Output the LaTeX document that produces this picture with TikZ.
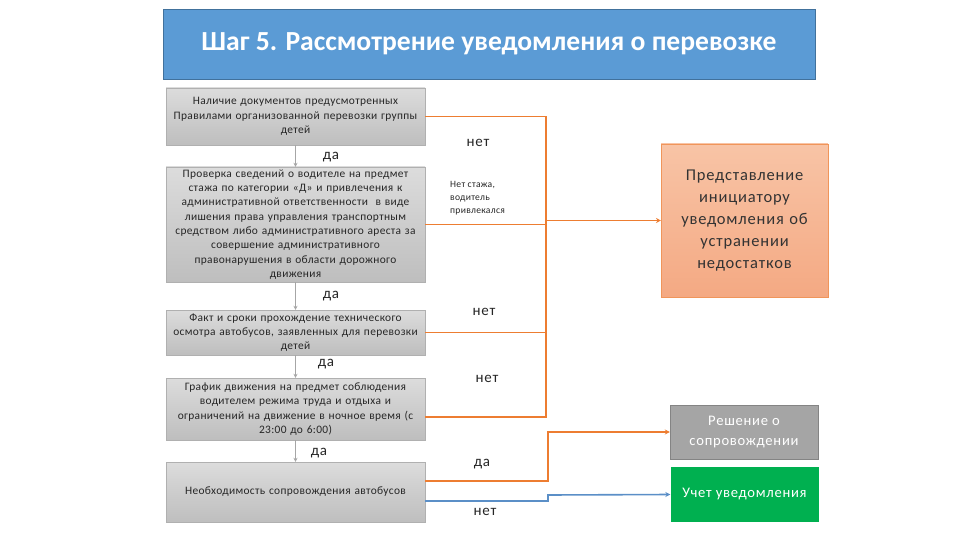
\documentclass[tikz,border=0pt]{standalone}
\usepackage{fontspec}
\setmainfont{Carlito}
\newfontfamily\spacedfont[LetterSpace=5]{Carlito}
\newfontfamily\boxfont[LetterSpace=3]{Carlito}
\usetikzlibrary{arrows.meta,positioning,calc}

\definecolor{titleblue}{HTML}{5B9BD5}
\definecolor{titleedge}{HTML}{41719C}
\definecolor{boxtop}{HTML}{DCDCDC}
\definecolor{boxbot}{HTML}{BEBEBE}
\definecolor{boxedge}{HTML}{B0B0B0}
\definecolor{noline}{HTML}{ED7D31}
\definecolor{yesline}{HTML}{A6A6A6}
\definecolor{blueline}{HTML}{5B8FC7}
\definecolor{fixtop}{HTML}{F8C4A6}
\definecolor{fixbot}{HTML}{F4A983}
\definecolor{fixedge}{HTML}{F0955A}
\definecolor{decgray}{HTML}{A5A5A5}
\definecolor{reggreen}{HTML}{00B050}

\begin{document}
\begin{tikzpicture}[
    x=1pt, y=-1pt,
    checkbox/.style={draw=boxedge, top color=boxtop, bottom color=boxbot,
        minimum width=259pt, text width=257pt, align=center, inner sep=1pt,
        font=\boxfont\fontsize{11.4}{14.3}\selectfont, text=black!85},
    resultbox/.style={minimum width=148pt, align=center, text=white,
        font=\spacedfont\fontsize{14.6}{20}\selectfont},
    yesarrow/.style={draw=yesline, line width=1pt, -{Stealth[length=4pt,width=4pt]}},
    noline/.style={draw=noline, line width=1.6pt},
    answer/.style={font=\spacedfont\fontsize{15}{16}\selectfont, text=black!85}
]
\useasboundingbox (0,0) rectangle (960,540);

% title
\node[draw=titleedge, fill=titleblue, minimum width=652pt, minimum height=70pt,
    text=white, font=\bfseries\fontsize{27.6}{30}\selectfont] (title) at (489,44)
    {Шаг 5. Рассмотрение уведомления о перевозке};

% checks
\node[checkbox, minimum height=57pt] (docs) at (295.5,116.5)
    {Наличие документов предусмотренных\\Правилами организованной перевозки группы\\детей};
\node[checkbox, minimum height=115pt] (driver) at (295.5,224.5)
    {Проверка сведений о водителе на предмет\\стажа по категории «Д» и привлечения к\\административной ответственности \ в виде\\лишения права управления транспортным\\средством либо административного ареста за\\совершение административного\\правонарушения в области дорожного\\движения};
\node[checkbox, minimum height=45pt] (inspect) at (295.5,332.5)
    {Факт и сроки прохождение технического\\осмотра автобусов, заявленных для перевозки\\детей};
\node[checkbox, minimum height=62pt] (sched) at (295.5,409)
    {График движения на предмет соблюдения\\водителем режима труда и отдыха и\\ограничений на движение в ночное время (с\\23:00 до 6:00)};
\node[checkbox, minimum height=60pt] (escort) at (295.5,492)
    {Необходимость сопровождения автобусов};

% results
\node[draw=fixedge, top color=fixtop, bottom color=fixbot, minimum width=163pt,
    minimum height=153pt, text width=160pt, align=center, text=black!80,
    font=\spacedfont\fontsize{16.5}{22}\selectfont] (fix) at (744.5,220.5)
    {Представление\\инициатору\\уведомления об\\устранении\\недостатков};
\node[resultbox, fill=decgray, draw=decgray!80!black, minimum height=54pt] (dec) at (744,432)
    {Решение о\\сопровождении};
\node[resultbox, fill=reggreen, minimum height=55pt] (reg) at (744.5,494.5)
    {Учет уведомления};

% yes arrows
\draw[yesarrow] (docs) -- (driver);
\draw[yesarrow] (driver) -- (inspect);
\draw[yesarrow] (inspect) -- (sched);
\draw[yesarrow] (sched) -- (escort);

\node[answer] at (331,157) {да};
\node[answer] at (331,296) {да};
\node[answer] at (326,364) {да};
\node[answer] at (319,453) {да};

% no branch
\coordinate (busT) at (546,116.5);
\coordinate (busB) at (546,417);
\draw[noline] (docs.east) -- (busT) -- (busB) -- ([yshift=-8pt]sched.east);
\draw[noline] (driver.east) -- (driver.east -| busT);
\draw[noline] (inspect.east) -- (inspect.east -| busT);
\draw[noline, -{Stealth[length=5pt,width=5pt]}] (fix.west -| busT) -- (fix.west);

\node[answer] at (478,143) {нет};
\node[answer] at (484,312) {нет};
\node[answer] at (487,379) {нет};
\node[anchor=north west, align=left, inner sep=0pt, text=black!85,
    font=\boxfont\fontsize{9.6}{13}\selectfont] (why) at (450,181)
    {Нет стажа,\\водитель\\привлекался};

% escort decision
\coordinate (escY) at (548,432);
\coordinate (escN) at (548,495);
\draw[noline, -{Stealth[length=5pt,width=5pt]}] ([yshift=11pt]escort.east)
    -- ([yshift=11pt]escort.east -| escY) -- (escY) -- (dec.west);
\draw[draw=blueline, line width=1.6pt, -{Stealth[length=5pt,width=5pt]}] ([yshift=-9pt]escort.east)
    -- ([yshift=-9pt]escort.east -| escN) -- (escN) -- (reg.west);

\node[answer] at (482,464) {да};
\node[answer] at (485,512) {нет};

\end{tikzpicture}
\end{document}
